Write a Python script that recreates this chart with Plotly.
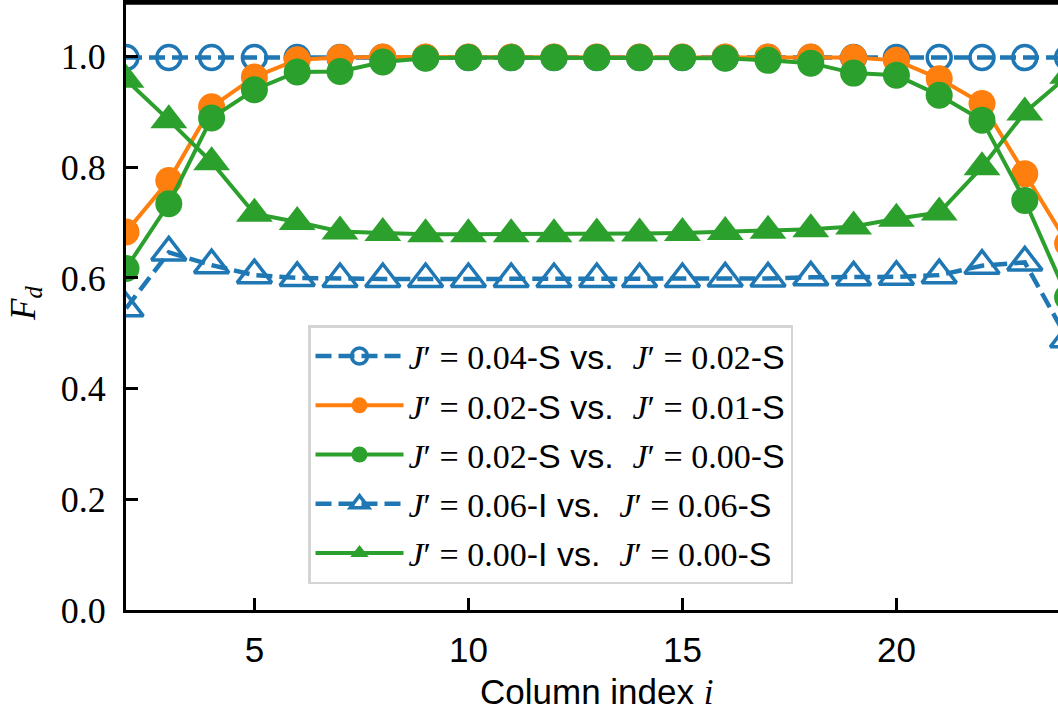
import plotly.graph_objects as go

column_index = [2, 3, 4, 5, 6, 7, 8, 9, 10, 11, 12, 13, 14, 15, 16, 17, 18, 19, 20, 21, 22, 23, 24]

fd_004S_vs_002S = [0.998, 0.998, 0.998, 0.998, 0.998, 0.998, 0.998, 0.998, 0.998, 0.998, 0.998, 0.998,
                   0.998, 0.998, 0.998, 0.998, 0.998, 0.998, 0.998, 0.998, 0.998, 0.998, 0.998]
fd_002S_vs_001S = [0.683, 0.776, 0.909, 0.963, 0.994, 0.998, 0.999, 0.999, 0.999, 0.999, 0.999, 0.999,
                   0.999, 0.999, 0.999, 0.999, 0.999, 0.998, 0.993, 0.960, 0.915, 0.788, 0.662]
fd_002S_vs_000S = [0.617, 0.734, 0.889, 0.940, 0.972, 0.973, 0.990, 0.997, 0.998, 0.998, 0.998, 0.998,
                   0.998, 0.998, 0.997, 0.993, 0.988, 0.970, 0.966, 0.930, 0.885, 0.740, 0.565]
fd_006I_vs_006S = [0.545, 0.646, 0.623, 0.605, 0.600, 0.598, 0.598, 0.598, 0.598, 0.598, 0.598, 0.598,
                   0.598, 0.598, 0.599, 0.599, 0.601, 0.601, 0.602, 0.605, 0.622, 0.628, 0.489]
fd_000I_vs_000S = [0.958, 0.885, 0.809, 0.716, 0.701, 0.684, 0.681, 0.679, 0.679, 0.679, 0.679, 0.680,
                   0.680, 0.681, 0.683, 0.685, 0.688, 0.693, 0.707, 0.718, 0.800, 0.899, 0.965]

y_ticks = [0.0, 0.2, 0.4, 0.6, 0.8, 1.0]
x_ticks = [5, 10, 15, 20]

BLUE = "#1f77b4"
ORANGE = "#ff7f0e"
GREEN = "#2ca02c"
SANS = "Liberation Sans"
SERIF = "Liberation Serif"


def sans(t):
    return f'<span style="font-family:{SANS}">{t}</span>'


def label(a, ta, b, tb):
    return (f"<i>J</i>′ = {a}{sans('-' + ta + ' vs.  ')}"
            f"<i>J</i>′ = {b}{sans('-' + tb)}")


series = [
    (fd_004S_vs_002S, label("0.04", "S", "0.02", "S"), BLUE, "circle-open", "dash"),
    (fd_002S_vs_001S, label("0.02", "S", "0.01", "S"), ORANGE, "circle", "solid"),
    (fd_002S_vs_000S, label("0.02", "S", "0.00", "S"), GREEN, "circle", "solid"),
    (fd_006I_vs_006S, label("0.06", "I", "0.06", "S"), BLUE, "triangle-up-open", "dash"),
    (fd_000I_vs_000S, label("0.00", "I", "0.00", "S"), GREEN, "triangle-up", "solid"),
]

fig = go.Figure()
for i, (vals, name, color, symbol, dash) in enumerate(series):
    is_tri = symbol.startswith("triangle")
    is_open = symbol.endswith("open")
    size = (32 if is_tri else 27) if not is_open else (30 if is_tri else 24)
    fig.add_trace(go.Scatter(
        x=column_index, y=vals, name=name, mode="lines+markers",
        legendgroup=f"g{i}",
        line=dict(color=color, width=4.5 if dash == "dash" else 4,
                  dash="16px,7px" if dash == "dash" else "solid"),
        marker=dict(symbol=symbol, size=size, color=color,
                    line=dict(color=color, width=3.5 if is_open else 0)),
        cliponaxis=True,
    ))

TOP = 3
PLOT_H = 713 - TOP - 103
fig.update_layout(
    width=1058, height=713,
    margin=dict(l=126, r=0, t=TOP, b=103),
    paper_bgcolor="white", plot_bgcolor="white",
    showlegend=True,
    legend=dict(
        x=(308 - 126) / 932, y=(610 - 325) / PLOT_H, xanchor="left", yanchor="top",
        bgcolor="rgba(255,255,255,0.8)", bordercolor="#d4d4d4", borderwidth=2.5,
        font=dict(family=SERIF, size=34, color="black"),
        traceorder="grouped", tracegroupgap=2, itemwidth=88,
    ),
    xaxis=dict(
        range=[2, 2 + 932 / 42.8], tickvals=x_ticks, ticktext=[str(v) for v in x_ticks],
        ticks="inside", ticklen=12, tickwidth=2.5, tickcolor="black",
        showline=True, linecolor="black", linewidth=3, mirror=True,
        showgrid=False, zeroline=False,
        tickfont=dict(family=SANS, size=35, color="black"),
        ticklabelstandoff=7,
    ),
    yaxis=dict(
        range=[0, PLOT_H / 553.5], tickvals=y_ticks, ticktext=[f"{v:.1f}" for v in y_ticks],
        ticks="inside", ticklen=12, tickwidth=2.5, tickcolor="black",
        showline=True, linecolor="black", linewidth=3, mirror=False,
        showgrid=False, zeroline=False,
        tickfont=dict(family=SERIF, size=36, color="black"),
        ticklabelstandoff=10,
    ),
    shapes=[
        dict(type="line", xref="paper", yref="paper", x0=0, x1=1, y0=1, y1=1,
             line=dict(color="black", width=3.5), layer="above"),
    ],
    annotations=[
        dict(text="<i>F<sub>d</sub></i>", xref="paper", yref="paper",
             x=(25 - 126) / 932, y=(610 - 304) / PLOT_H, xanchor="center", yanchor="middle",
             textangle=-90, showarrow=False,
             font=dict(family=SERIF, size=35, color="black")),
        dict(text=f"Column index <span style=\"font-family:{SERIF}\"><i>i</i></span>",
             xref="x", yref="paper", x=13, y=-(692 - 610) / PLOT_H,
             xanchor="center", yanchor="middle", showarrow=False,
             font=dict(family=SANS, size=35, color="black")),
    ],
)

fig.write_html("out.html", config={"displayModeBar": False},
               post_script="document.body.style.margin='0px';document.body.style.overflow='hidden';")
